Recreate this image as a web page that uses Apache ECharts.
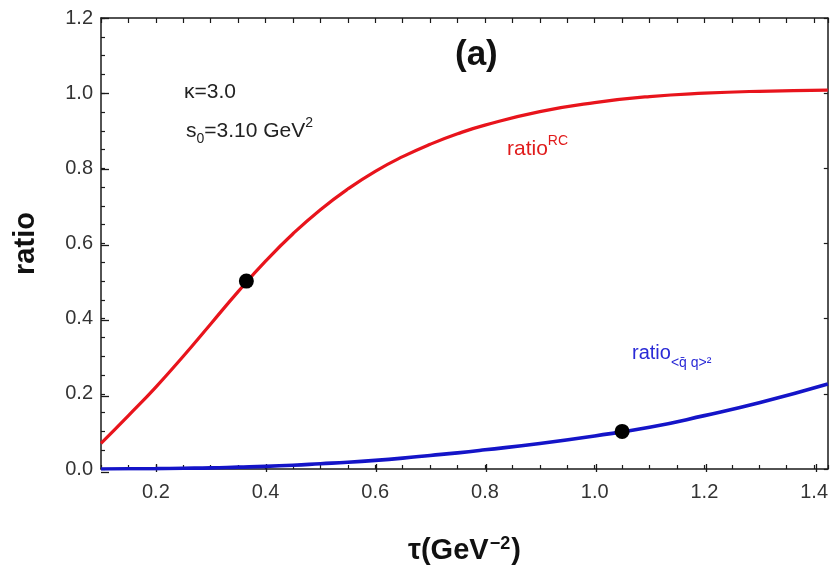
<!DOCTYPE html>
<html>
<head>
<meta charset="utf-8">
<title>ratio vs tau</title>
<script src="https://cdn.jsdelivr.net/npm/echarts@6/dist/echarts.min.js"></script>
<style>
  body { margin: 0; padding: 0; background: #fff; }
  #main { width: 831px; height: 570px; }
</style>
</head>
<body>
<div id="main"></div>
<script>
// tau values (GeV^-2) the curves were read at
var tauValues = [0.1, 0.15, 0.2, 0.25, 0.3, 0.35, 0.4, 0.45, 0.5, 0.55, 0.6, 0.65, 0.7, 0.75, 0.8, 0.9, 1.0, 1.1, 1.2, 1.3, 1.425];
// ratio^RC (red)
var ratioRC = [0.068, 0.142, 0.218, 0.3, 0.386, 0.472, 0.553, 0.626, 0.69, 0.745, 0.792, 0.831, 0.864, 0.892, 0.915, 0.951, 0.975, 0.991, 1.0, 1.005, 1.008];
// ratio_<qq>^2 (blue)
var ratioQQ = [0.0, 0.0005, 0.001, 0.002, 0.003, 0.005, 0.007, 0.01, 0.014, 0.018, 0.023, 0.029, 0.036, 0.043, 0.051, 0.068, 0.088, 0.111, 0.142, 0.176, 0.226];
// black marker points [tau, ratio]
var markers = [[0.365, 0.5], [1.05, 0.1]];
// tick labels
var xTicks = [0.2, 0.4, 0.6, 0.8, 1.0, 1.2, 1.4];
var yTicks = [0.0, 0.2, 0.4, 0.6, 0.8, 1.0, 1.2];

var font = 'Arial, "Liberation Sans", sans-serif';
var axisCol = '#1a1a1a';

function pairs(xs, ys) {
  return xs.map(function (x, i) { return [x, ys[i]]; });
}

var myChart = echarts.init(document.getElementById('main'));

var gridBox = {left: 101, right: 1, top: 18, bottom: 98};

var option = {
  backgroundColor: '#fff',
  animation: false,
  grid: [
    Object.assign({}, gridBox),
    Object.assign({}, gridBox)
  ],
  xAxis: [
    // bottom frame: minor ticks + labels
    {
      gridIndex: 0, type: 'value', position: 'bottom',
      min: 0.1, max: 1.425, interval: 0.05,
      axisLine: {show: true, onZero: false, lineStyle: {color: axisCol, width: 1.5}},
      axisTick: {show: true, inside: true, length: 4, lineStyle: {color: axisCol, width: 1.2}},
      splitLine: {show: false},
      axisLabel: {
        customValues: xTicks, margin: 13, color: '#333', fontSize: 20, fontFamily: font,
        formatter: function (v) { return v.toFixed(1); }
      },
      name: '{b|τ(GeV}{s|−2}{b|)}',
      nameLocation: 'middle', nameGap: 66,
      nameTextStyle: {
        rich: {
          b: {fontSize: 29, fontWeight: 'bold', fontFamily: font, color: '#111', verticalAlign: 'bottom'},
          s: {fontSize: 18, fontWeight: 'bold', fontFamily: font, color: '#111', verticalAlign: 'top', padding: [0, 1, 12, 1]}
        }
      }
    },
    // top frame
    {
      gridIndex: 0, type: 'value', position: 'top',
      min: 0.1, max: 1.425, interval: 0.05,
      axisLine: {show: true, onZero: false, lineStyle: {color: axisCol, width: 1.5}},
      axisTick: {show: true, inside: true, length: 5, lineStyle: {color: axisCol, width: 1.2}},
      splitLine: {show: false},
      axisLabel: {show: false}
    },
    // bottom major ticks
    {
      gridIndex: 1, type: 'value', position: 'bottom',
      min: 0.1, max: 1.425,
      axisLine: {show: false},
      axisTick: {show: true, inside: true, length: 8, customValues: xTicks, lineStyle: {color: axisCol, width: 1.3}},
      splitLine: {show: false},
      axisLabel: {show: false}
    }
  ],
  yAxis: [
    // left frame: minor ticks + labels
    {
      gridIndex: 0, type: 'value', position: 'left',
      min: 0, max: 1.2, interval: 0.05,
      axisLine: {show: true, onZero: false, lineStyle: {color: axisCol, width: 1.5}},
      axisTick: {show: true, inside: true, length: 4, lineStyle: {color: axisCol, width: 1.2}},
      splitLine: {show: false},
      axisLabel: {
        customValues: yTicks, margin: 8, color: '#333', fontSize: 20, fontFamily: font,
        formatter: function (v) { return v.toFixed(1); }
      },
      name: 'ratio', nameLocation: 'middle', nameGap: 61, nameRotate: 90,
      nameTextStyle: {fontSize: 29, fontWeight: 'bold', fontFamily: font, color: '#111'}
    },
    // right frame
    {
      gridIndex: 0, type: 'value', position: 'right',
      min: 0, max: 1.2,
      axisLine: {show: true, onZero: false, lineStyle: {color: axisCol, width: 1.5}},
      axisTick: {show: true, inside: true, length: 4, customValues: yTicks, lineStyle: {color: axisCol, width: 1.2}},
      splitLine: {show: false},
      axisLabel: {show: false}
    },
    // left major ticks
    {
      gridIndex: 1, type: 'value', position: 'left',
      min: 0, max: 1.2,
      axisLine: {show: false},
      axisTick: {show: true, inside: true, length: 8, customValues: yTicks, lineStyle: {color: axisCol, width: 1.3}},
      splitLine: {show: false},
      axisLabel: {show: false}
    }
  ],
  graphic: [
    {
      type: 'text', left: 455, top: 38,
      style: {text: '(a)', font: 'bold 35px ' + font, fill: '#111'}
    },
    {
      type: 'text', left: 184, top: 82,
      style: {text: 'κ=3.0', font: '21px ' + font, fill: '#222'}
    },
    {
      type: 'text', left: 186, top: 116,
      style: {
        text: '{n|s}{sub|0}{n|=3.10 GeV}{sup|2}',
        rich: {
          n: {fontSize: 21, fontFamily: font, fill: '#222', verticalAlign: 'middle', lineHeight: 30},
          sub: {fontSize: 14, fontFamily: font, fill: '#222', verticalAlign: 'bottom', lineHeight: 30},
          sup: {fontSize: 14, fontFamily: font, fill: '#222', verticalAlign: 'top', lineHeight: 30}
        }
      }
    },
    {
      type: 'text', left: 507, top: 134,
      style: {
        text: '{n|ratio}{sup|RC}',
        rich: {
          n: {fontSize: 21, fontFamily: font, fill: '#e01b1b', verticalAlign: 'middle', lineHeight: 30},
          sup: {fontSize: 14, fontFamily: font, fill: '#e01b1b', verticalAlign: 'top', lineHeight: 30}
        }
      }
    },
    {
      type: 'text', left: 632, top: 343,
      style: {
        text: '{n|ratio}{sub|<q̄ q>²}',
        rich: {
          n: {fontSize: 20, fontFamily: font, fill: '#2a2ad6', verticalAlign: 'middle', lineHeight: 34},
          sub: {fontSize: 14, fontFamily: font, fill: '#2a2ad6', verticalAlign: 'bottom', lineHeight: 34}
        }
      }
    }
  ],
  series: [
    {
      name: 'ratioRC', type: 'line', xAxisIndex: 0, yAxisIndex: 0,
      data: pairs(tauValues, ratioRC), smooth: 0.5, showSymbol: false,
      lineStyle: {color: '#e8141c', width: 3.2}, z: 3
    },
    {
      name: 'ratioQQ', type: 'line', xAxisIndex: 0, yAxisIndex: 0,
      data: pairs(tauValues, ratioQQ), smooth: 0.5, showSymbol: false,
      lineStyle: {color: '#1414c8', width: 3.6}, z: 3
    },
    {
      name: 'points', type: 'scatter', xAxisIndex: 0, yAxisIndex: 0,
      data: markers, symbol: 'circle', symbolSize: 15,
      itemStyle: {color: '#000', opacity: 1}, z: 5
    }
  ]
};

myChart.setOption(option);
</script>
</body>
</html>
